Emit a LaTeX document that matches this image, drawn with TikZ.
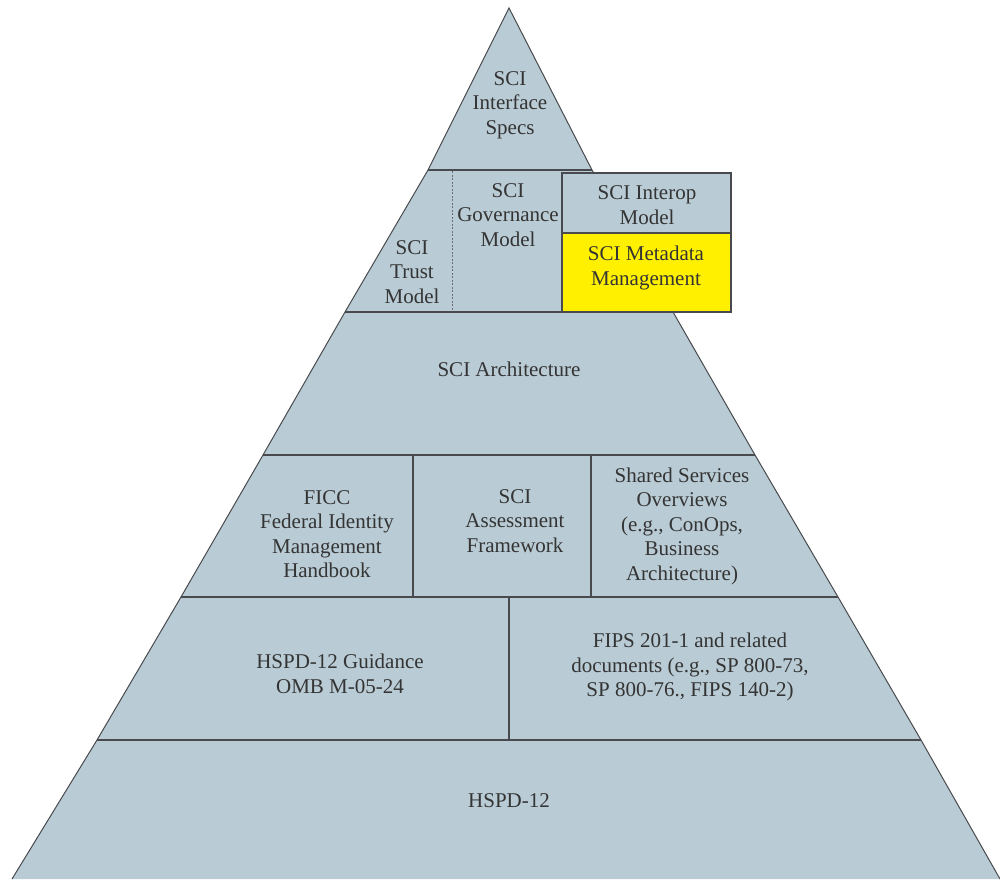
\documentclass[tikz,border=0pt]{standalone}
\usepackage{fontspec}
\setmainfont{Liberation Serif}
\usetikzlibrary{positioning}
\definecolor{pyrfill}{RGB}{185,203,212}
\definecolor{edgegray}{RGB}{72,74,78}
\definecolor{labeltext}{RGB}{52,52,52}
\definecolor{metayellow}{RGB}{255,240,0}

\begin{document}
\begin{tikzpicture}[x=1pt, y=-1pt,
    tierline/.style={draw=edgegray, line width=2.5pt},
    divider/.style={draw=edgegray, line width=2pt},
    tiertext/.style={text=labeltext, align=center, inner sep=0pt,
                     font=\fontsize{21}{24.5}\selectfont}]
    \useasboundingbox (0,0) rectangle (1000,879);

    % pyramid body
    \fill[pyrfill] (509,8) -- (592,170) -- (673,312) -- (755,455) -- (838,597) -- (921,740) -- (1000,879)
        -- (12,879) -- (97,740) -- (181,597) -- (263,455) -- (345,312) -- (428,170) -- cycle;
    \draw[edgegray, line width=1pt] (12,879) -- (97,740) -- (181,597) -- (263,455) -- (345,312) -- (428,170) -- (509,8)
        -- (592,170) -- (673,312) -- (755,455) -- (838,597) -- (921,740) -- (1000,879);

    % tier borders
    \draw[tierline] (428,170) -- (592,170);
    \draw[tierline] (345,312) -- (673,312);
    \draw[tierline] (263,455) -- (755,455);
    \draw[tierline] (181,597) -- (838,597);
    \draw[tierline] (97,740) -- (921,740);

    % cell dividers
    \draw[edgegray!80, line width=0.7pt, dash pattern=on 2pt off 1.5pt] (452,171) -- (452,311);
    \draw[divider] (413,455) -- (413,597);
    \draw[divider] (591,455) -- (591,597);
    \draw[divider] (509,597) -- (509,740);

    % interop / metadata box
    \filldraw[divider, fill=pyrfill] (562,173) rectangle (731,233);
    \filldraw[divider, fill=metayellow] (562,233) rectangle (731,312);

    % labels
    \node[tiertext] (specs) at (510,105) {SCI\\Interface\\Specs};
    \node[tiertext] (trust) at (412,272) {SCI\\Trust\\Model};
    \node[tiertext] (governance) at (508,215) {SCI\\Governance\\Model};
    \node[tiertext] (interop) at (647,205) {SCI Interop\\Model};
    \node[tiertext] (metadata) at (646,268) {SCI Metadata\\Management};
    \node[tiertext] (architecture) at (509,369) {SCI Architecture};
    \node[tiertext] (ficc) at (327,534) {FICC\\Federal Identity\\Management\\Handbook};
    \node[tiertext] (assessment) at (515,521) {SCI\\Assessment\\Framework};
    \node[tiertext] (shared) at (682,526) {Shared Services\\Overviews\\(e.g., ConOps,\\Business\\Architecture)};
    \node[tiertext] (guidance) at (340,674) {HSPD-12 Guidance\\OMB M-05-24};
    \node[tiertext] (fips) at (690,667) {FIPS 201-1 and related\\documents (e.g., SP 800-73,\\SP 800-76., FIPS 140-2)};
    \node[tiertext] (hspd) at (509,801) {HSPD-12};
\end{tikzpicture}
\end{document}
